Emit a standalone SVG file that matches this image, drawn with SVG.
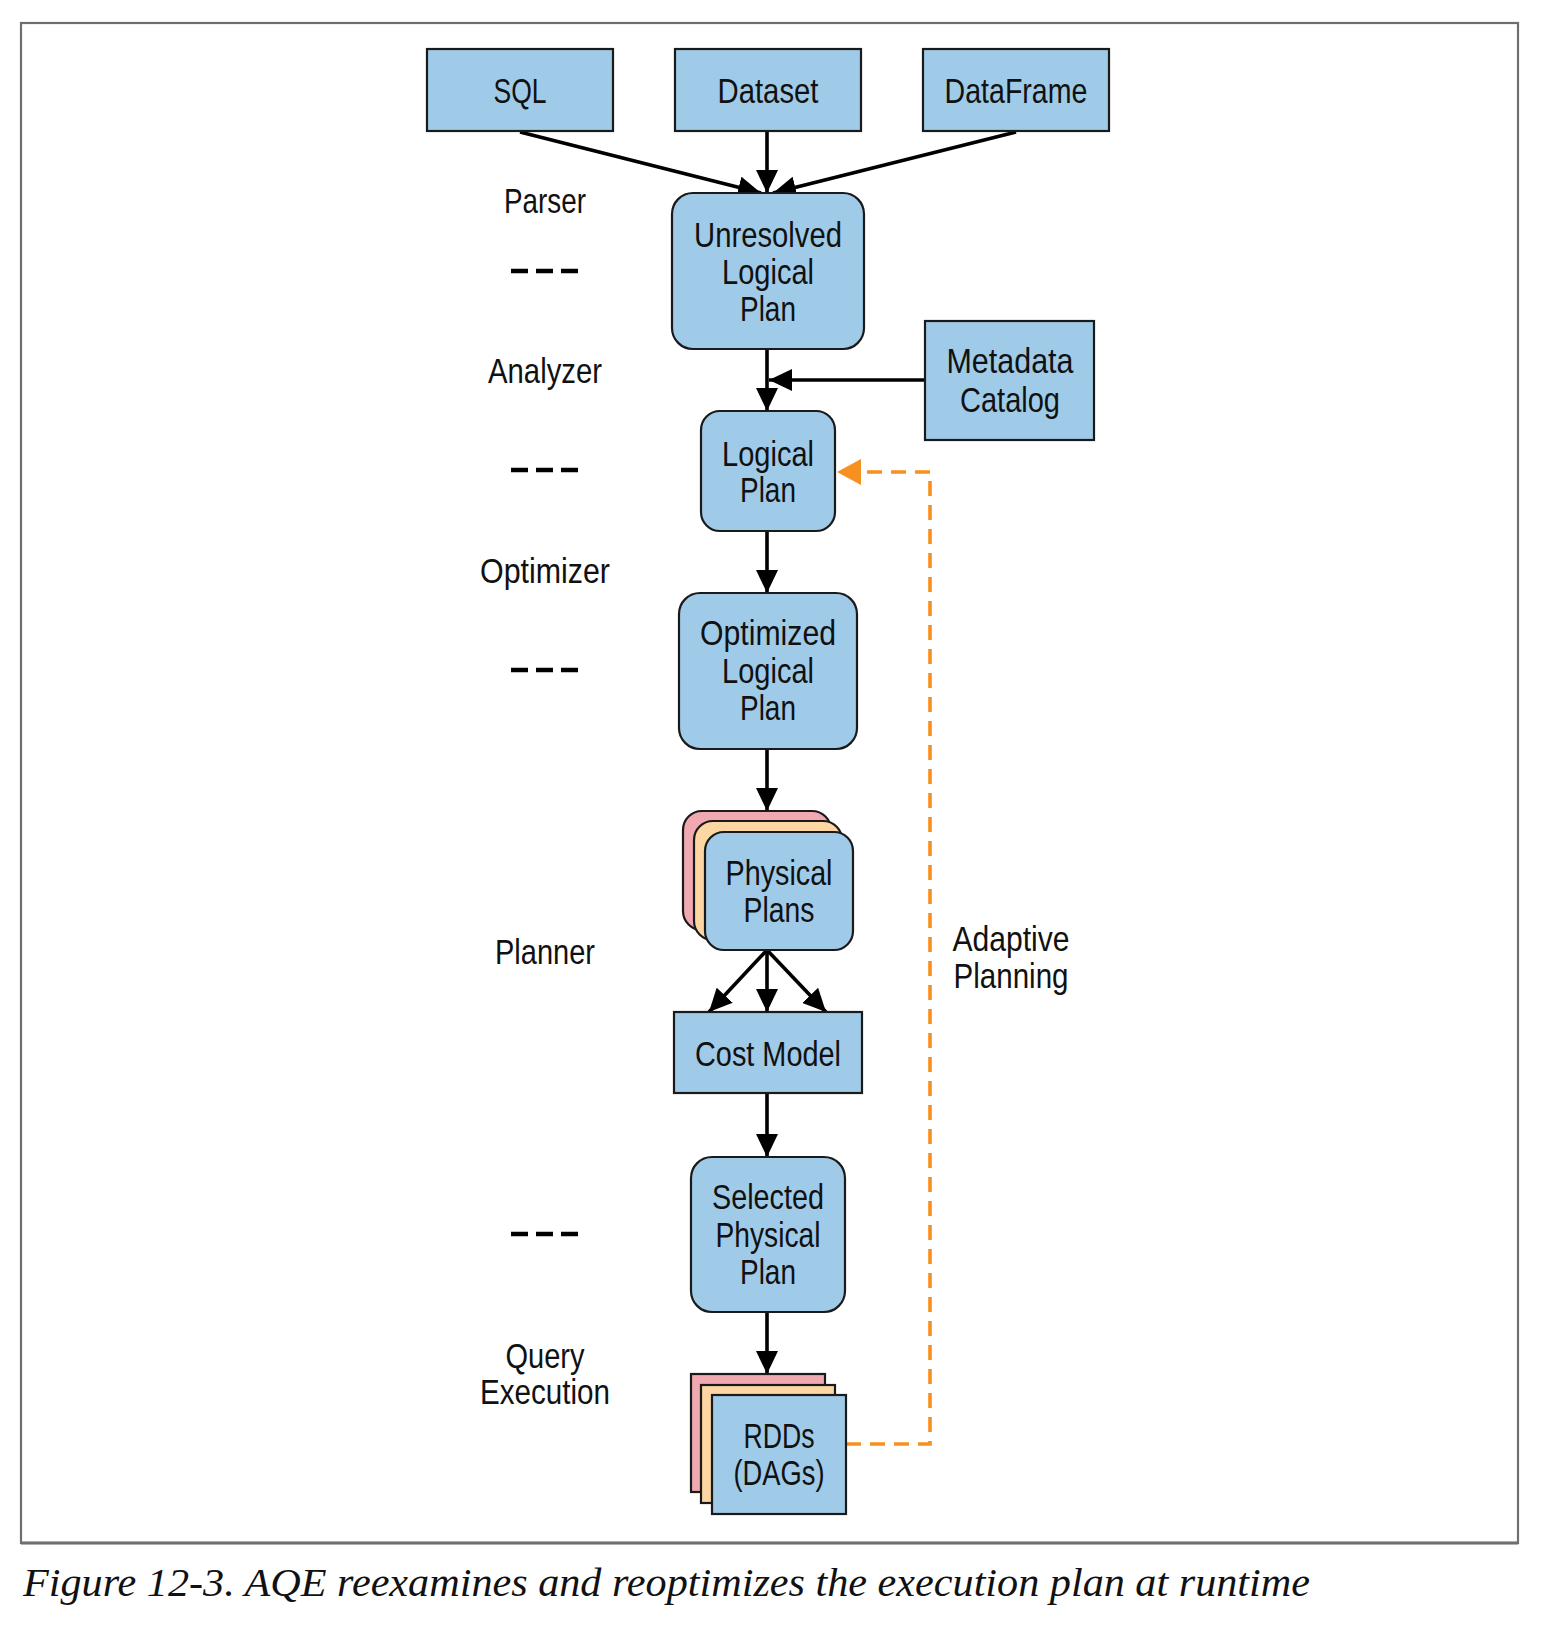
<svg xmlns="http://www.w3.org/2000/svg" width="1542" height="1628" viewBox="0 0 1542 1628">
<style>
.box{fill:#9fcbe9;stroke:#1a1a1a;stroke-width:2.2}
.pink{fill:#f0a9b1;stroke:#1a1a1a;stroke-width:2.2}
.peach{fill:#fdd6a3;stroke:#1a1a1a;stroke-width:2.2}
.t{font-family:"Liberation Sans","DejaVu Sans",sans-serif;font-size:35px;fill:#111;text-anchor:middle}
.lbl{font-family:"Liberation Sans","DejaVu Sans",sans-serif;font-size:35px;fill:#111;text-anchor:middle}
.edge{stroke:#000;stroke-width:3.6;fill:none}
.sep{stroke:#000;stroke-width:4.5;stroke-dasharray:17 8;fill:none}
.adapt{stroke:#f7901e;stroke-width:3.6;fill:none;stroke-dasharray:15 9}
</style>
<defs>
<marker id="ah" viewBox="0 0 23 22" refX="23" refY="11" markerWidth="23" markerHeight="22" orient="auto" markerUnits="userSpaceOnUse">
<path d="M0,0 L23,11 L0,22 Z" fill="#000"/>
</marker>
<marker id="ahO" viewBox="0 0 24 26" refX="24" refY="13" markerWidth="24" markerHeight="26" orient="auto" markerUnits="userSpaceOnUse">
<path d="M0,0 L24,13 L0,26 Z" fill="#f7901e"/>
</marker>
</defs>
<rect width="1542" height="1628" fill="#fff"/>
<rect x="21" y="23" width="1497" height="1520" fill="none" stroke="#6f6f6f" stroke-width="2.2"/>
<line x1="21" y1="1543" x2="1518" y2="1543" stroke="#6f6f6f" stroke-width="3"/>

<g id="connectors">
<line class="edge" x1="520" y1="132" x2="761" y2="193" marker-end="url(#ah)"/>
<line class="edge" x1="767" y1="131" x2="767" y2="193" marker-end="url(#ah)"/>
<line class="edge" x1="1016" y1="132" x2="773" y2="193" marker-end="url(#ah)"/>
<line class="edge" x1="767" y1="349" x2="767" y2="411" marker-end="url(#ah)"/>
<line class="edge" x1="925" y1="380" x2="769" y2="380" marker-end="url(#ah)"/>
<line class="edge" x1="767" y1="531" x2="767" y2="593" marker-end="url(#ah)"/>
<line class="edge" x1="767" y1="749" x2="767" y2="811" marker-end="url(#ah)"/>
<line class="edge" x1="767" y1="950" x2="709" y2="1012" marker-end="url(#ah)"/>
<line class="edge" x1="767" y1="950" x2="767" y2="1012" marker-end="url(#ah)"/>
<line class="edge" x1="767" y1="950" x2="826" y2="1012" marker-end="url(#ah)"/>
<line class="edge" x1="767" y1="1093" x2="767" y2="1157" marker-end="url(#ah)"/>
<line class="edge" x1="767" y1="1312" x2="767" y2="1374" marker-end="url(#ah)"/>
<path class="adapt" d="M846,1444 H930 V472 H837" marker-end="url(#ahO)"/>
</g>

<g id="sql"><rect class="box" x="427" y="49" width="186" height="82"/><text class="t" x="520" y="103" textLength="53" lengthAdjust="spacingAndGlyphs">SQL</text></g>
<g id="dataset"><rect class="box" x="675" y="49" width="186" height="82"/><text class="t" x="768" y="103" textLength="101" lengthAdjust="spacingAndGlyphs">Dataset</text></g>
<g id="dataframe"><rect class="box" x="923" y="49" width="186" height="82"/><text class="t" x="1016" y="103" textLength="143" lengthAdjust="spacingAndGlyphs">DataFrame</text></g>

<g id="unresolved"><rect class="box" x="672" y="193" width="192" height="156" rx="21"/>
<text class="t" x="768" y="247" textLength="148" lengthAdjust="spacingAndGlyphs">Unresolved</text>
<text class="t" x="768" y="284" textLength="92" lengthAdjust="spacingAndGlyphs">Logical</text>
<text class="t" x="768" y="321" textLength="56" lengthAdjust="spacingAndGlyphs">Plan</text></g>

<g id="metadata"><rect class="box" x="925" y="321" width="169" height="119"/>
<text class="t" x="1010" y="373" textLength="127" lengthAdjust="spacingAndGlyphs">Metadata</text>
<text class="t" x="1010" y="412" textLength="100" lengthAdjust="spacingAndGlyphs">Catalog</text></g>

<g id="logical"><rect class="box" x="701" y="411" width="134" height="120" rx="19"/>
<text class="t" x="768" y="466" textLength="92" lengthAdjust="spacingAndGlyphs">Logical</text>
<text class="t" x="768" y="502" textLength="56" lengthAdjust="spacingAndGlyphs">Plan</text></g>

<g id="optimized"><rect class="box" x="679" y="593" width="178" height="156" rx="21"/>
<text class="t" x="768" y="645" textLength="136" lengthAdjust="spacingAndGlyphs">Optimized</text>
<text class="t" x="768" y="683" textLength="92" lengthAdjust="spacingAndGlyphs">Logical</text>
<text class="t" x="768" y="720" textLength="56" lengthAdjust="spacingAndGlyphs">Plan</text></g>

<g id="physical">
<rect class="pink" x="683" y="811" width="148" height="119" rx="19"/>
<rect class="peach" x="694" y="821" width="148" height="119" rx="19"/>
<rect class="box" x="705" y="832" width="148" height="118" rx="19"/>
<text class="t" x="779" y="885" textLength="107" lengthAdjust="spacingAndGlyphs">Physical</text>
<text class="t" x="779" y="922" textLength="71" lengthAdjust="spacingAndGlyphs">Plans</text></g>

<g id="costmodel"><rect class="box" x="674" y="1012" width="188" height="81"/>
<text class="t" x="768" y="1066" textLength="146" lengthAdjust="spacingAndGlyphs">Cost Model</text></g>

<g id="selected"><rect class="box" x="691" y="1157" width="154" height="155" rx="21"/>
<text class="t" x="768" y="1209" textLength="112" lengthAdjust="spacingAndGlyphs">Selected</text>
<text class="t" x="768" y="1247" textLength="105" lengthAdjust="spacingAndGlyphs">Physical</text>
<text class="t" x="768" y="1284" textLength="56" lengthAdjust="spacingAndGlyphs">Plan</text></g>

<g id="rdds">
<rect class="pink" x="691" y="1374" width="134" height="118"/>
<rect class="peach" x="701" y="1385" width="134" height="118"/>
<rect class="box" x="712" y="1395" width="134" height="119"/>
<text class="t" x="779" y="1448" textLength="71" lengthAdjust="spacingAndGlyphs">RDDs</text>
<text class="t" x="779" y="1485" textLength="91" lengthAdjust="spacingAndGlyphs">(DAGs)</text></g>

<g id="phases">
<text class="lbl" x="545" y="213" textLength="82" lengthAdjust="spacingAndGlyphs">Parser</text>
<line class="sep" x1="511" y1="271" x2="578" y2="271"/>
<text class="lbl" x="545" y="383" textLength="114" lengthAdjust="spacingAndGlyphs">Analyzer</text>
<line class="sep" x1="511" y1="470" x2="578" y2="470"/>
<text class="lbl" x="545" y="583" textLength="130" lengthAdjust="spacingAndGlyphs">Optimizer</text>
<line class="sep" x1="511" y1="670" x2="578" y2="670"/>
<text class="lbl" x="545" y="964" textLength="100" lengthAdjust="spacingAndGlyphs">Planner</text>
<line class="sep" x1="511" y1="1234" x2="578" y2="1234"/>
<text class="lbl" x="545" y="1368" textLength="79" lengthAdjust="spacingAndGlyphs">Query</text>
<text class="lbl" x="545" y="1404" textLength="130" lengthAdjust="spacingAndGlyphs">Execution</text>
</g>

<g id="adaptive-label">
<text class="lbl" x="1011" y="951" textLength="117" lengthAdjust="spacingAndGlyphs">Adaptive</text>
<text class="lbl" x="1011" y="988" textLength="115" lengthAdjust="spacingAndGlyphs">Planning</text>
</g>

<text x="23" y="1596" font-family="'Liberation Serif',serif" font-style="italic" font-size="40" fill="#111" textLength="1287" lengthAdjust="spacingAndGlyphs">Figure 12-3. AQE reexamines and reoptimizes the execution plan at runtime</text>
</svg>
